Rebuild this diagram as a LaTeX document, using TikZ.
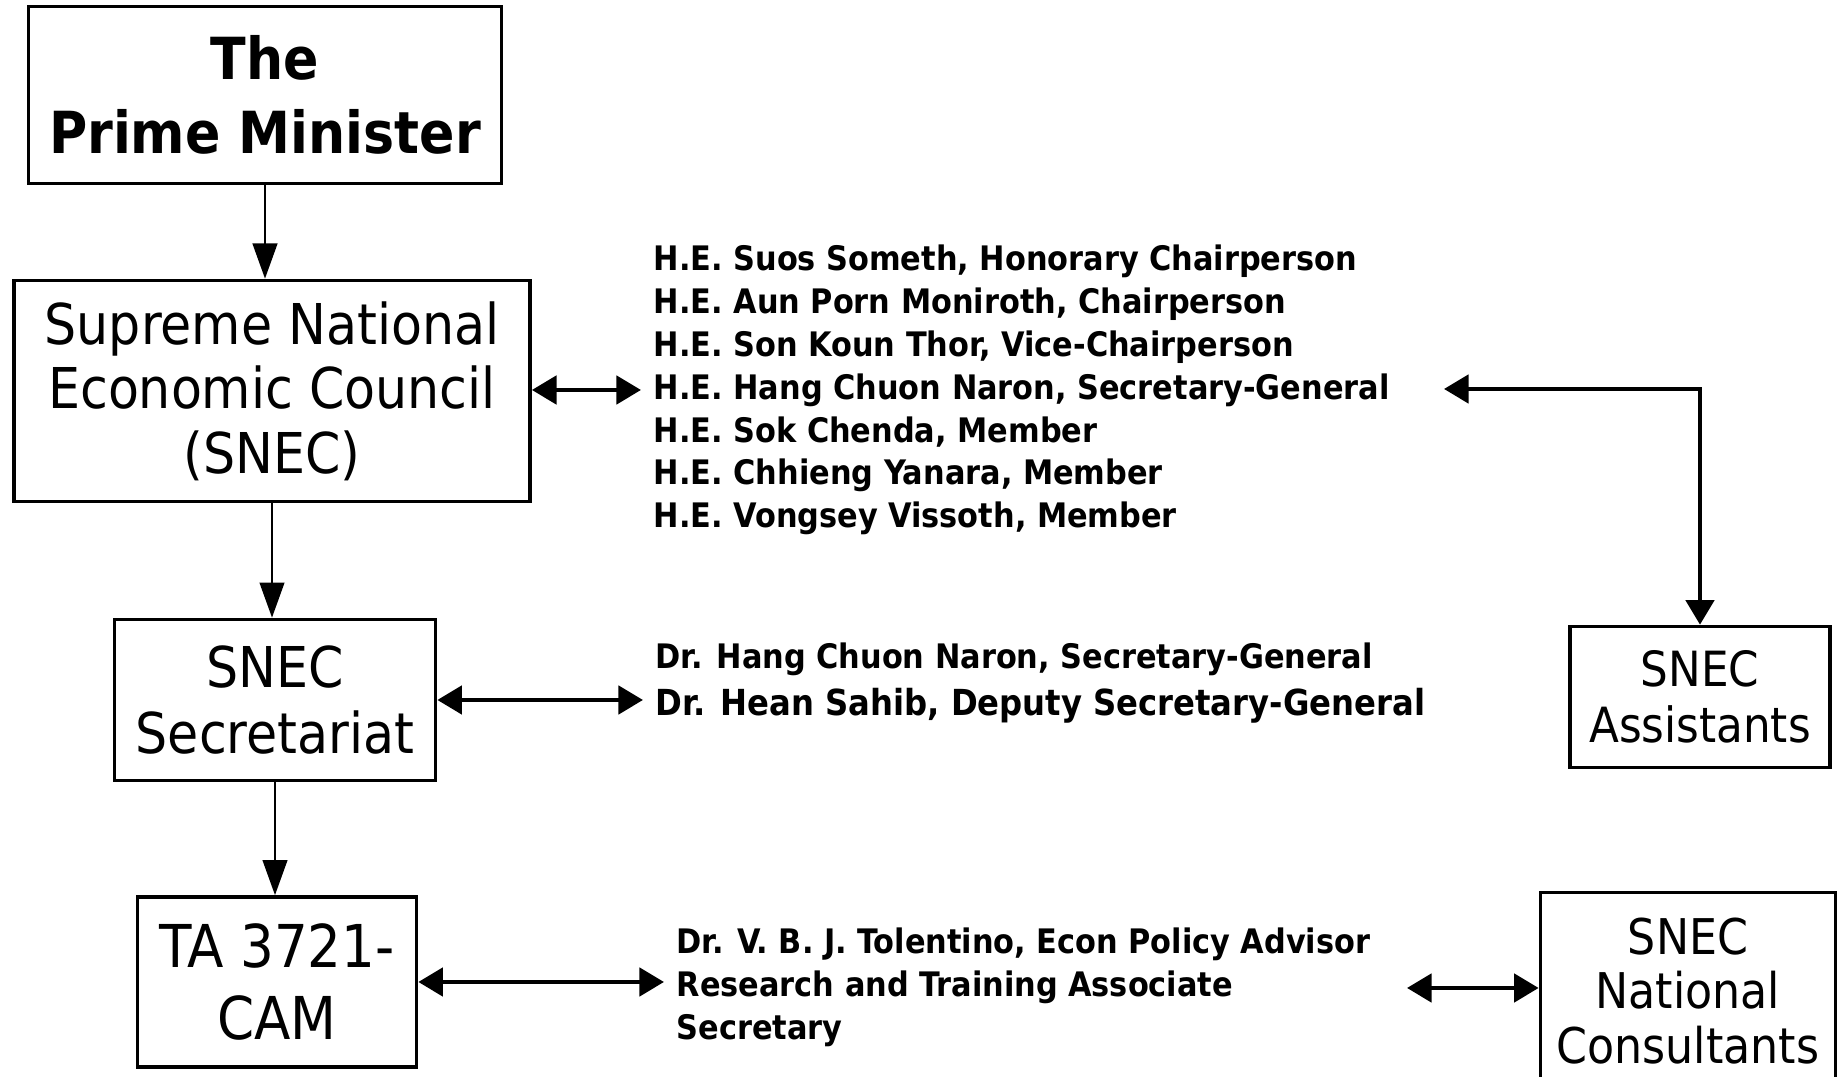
\documentclass[tikz,border=0pt]{standalone}
\usepackage{fontspec}
\setmainfont{DejaVu Sans Condensed}
\usepackage{tikz}
\usetikzlibrary{arrows.meta}
\tikzstyle{unit}=[rectangle,draw=black,line width=1pt,align=center,inner sep=0mm]
\tikzstyle{names}=[align=left,anchor=west,inner sep=1.2mm,font=\bfseries\fontsize{9.6}{12.2}\selectfont]
\tikzstyle{arrow}=[-{Triangle[length=10pt,width=7pt]},line width=0.7pt]
\tikzstyle{both}=[{Triangle[length=7pt,width=8pt]}-{Triangle[length=7pt,width=8pt]},line width=1.3pt]

\begin{document}
\begin{tikzpicture}[x=0.01cm,y=-0.01cm]
      \useasboundingbox (0,0) rectangle (1838,1077);
      \node[unit,minimum width=4.73cm,minimum height=1.77cm,font=\bfseries\fontsize{16.5}{21}\selectfont] at (265,95) (pm) {The\\Prime Minister};
      \node[unit,minimum width=5.16cm,minimum height=2.21cm,font=\fontsize{16}{18.3}\selectfont] at (272,391) (snec) {Supreme National\\Economic Council\\(SNEC)};
      \node[unit,minimum width=3.21cm,minimum height=1.61cm,font=\fontsize{16}{19}\selectfont] at (275,700) (sec) {SNEC\\Secretariat};
      \node[unit,minimum width=2.79cm,minimum height=1.70cm,font=\fontsize{16.8}{20.5}\selectfont] at (277,982) (ta) {TA 3721-\\CAM};
      \node[unit,minimum width=2.60cm,minimum height=1.41cm,font=\fontsize{13.8}{16}\selectfont] at (1700,697) (assist) {SNEC\\Assistants};
      \node[unit,minimum width=2.95cm,minimum height=1.97cm,font=\fontsize{14}{15.4}\selectfont] at (1688,991) (natcons) {SNEC\\National\\Consultants};
      \node[names] at (641,390) (council) {H.E. Suos Someth, Honorary Chairperson\\
        H.E. Aun Porn Moniroth, Chairperson\\
        H.E. Son Koun Thor, Vice-Chairperson\\
        H.E. Hang Chuon Naron, Secretary-General\\
        H.E. Sok Chenda, Member\\
        H.E. Chhieng Yanara, Member\\
        H.E. Vongsey Vissoth, Member};
      \node[names,font=\bfseries\fontsize{9.6}{13.4}\selectfont] at (643,683) (staff) {Dr. Hang Chuon Naron, Secretary-General\\
        {\fontsize{10.2}{13.4}\selectfont Dr. Hean Sahib, Deputy Secretary-General}};
      \node[names] at (664,987) (advisor) {Dr. V. B. J. Tolentino, Econ Policy Advisor\\
        Research and Training Associate\\
        Secretary};
      \coordinate (counciltip) at (1444,389);
      \coordinate (advisortip) at (1407,988);
      \draw[arrow] (pm.south) -- (pm.south |- snec.north);
      \draw[arrow] (snec.south) -- (snec.south |- sec.north);
      \draw[arrow] (sec.south) -- (sec.south |- ta.north);
      \draw[both] (snec.east |- council.west) -- (council.west);
      \draw[both] (sec.east) -- (sec.east -| staff.west);
      \draw[both] (ta.east) -- (ta.east -| advisor.west);
      \draw[both] (counciltip) -| (assist.north);
      \draw[both] (advisortip) -- (advisortip -| natcons.west);
    \end{tikzpicture}
\end{document}
